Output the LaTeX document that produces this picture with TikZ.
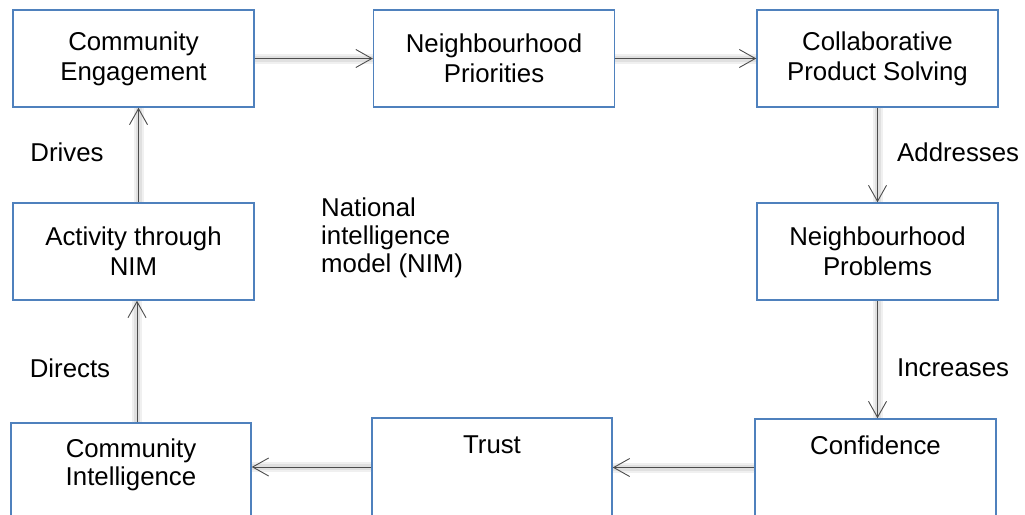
\documentclass[tikz,border=0pt]{standalone}
\usepackage{fontspec}
\setmainfont{Liberation Sans}
\usetikzlibrary{arrows.meta,calc}
\definecolor{boxblue}{RGB}{79,129,189}
\tikzset{
  box/.style={draw=boxblue, line width=1.5pt, minimum width=241pt, minimum height=97pt, inner sep=0pt, align=center, font=\fontsize{25.8}{31}\selectfont},
  lbl/.style={font=\fontsize{25.8}{31}\selectfont, inner sep=0pt, align=center},
  flow/.style={draw=black!70, line width=0.9pt, -{Straight Barb[length=16pt,width=18pt,line width=0.9pt]},
    preaction={draw=black!6, line width=10pt, -},
    preaction={draw=black!12, line width=6pt, -}},
}
\begin{document}
\begin{tikzpicture}[x=1pt,y=-1pt]
\useasboundingbox (0,0) rectangle (1025,514);
% top row
\node[box] (ce) at (133.5,58.5) {Community\\[-1pt]Engagement};
\node[box] (np) at (494,58.5) {Neighbourhood\\[-1pt]Priorities};
\node[box] (cps) at (877.5,58.5) {Collaborative\\[-1pt]Product Solving};
% middle row
\node[box] (act) at (133.5,251.5) {Activity through\\[-1pt]NIM};
\node[box] (prob) at (877.5,251.5) {Neighbourhood\\[-1pt]Problems};
% bottom row
\node[box, minimum width=240pt, minimum height=117pt] (ci) at (131,481.5) {};
\node[box, minimum width=240pt, minimum height=122pt] (trust) at (492,479) {};
\node[box, minimum width=241pt, minimum height=121pt] (conf) at (875.5,479.5) {};
\node[lbl] (citext) at (131,465) {Community\\[-3pt]Intelligence};
\node[lbl] (trusttext) at (492,445) {Trust};
\node[lbl] (conftext) at (875.5,445) {Confidence};
% free text
\node[lbl, anchor=west, align=left] (nim) at (321,238) {National\\[-3pt]intelligence\\[-3pt]model (NIM)};
\node[lbl] (drives) at (67,152) {Drives};
\node[lbl] (directs) at (70,368) {Directs};
\node[lbl, anchor=west] (addr) at (897,152) {Addresses};
\node[lbl, anchor=west] (incr) at (897,368) {Increases};
% connectors
\draw[flow] (ce.east) -- (np.west);
\draw[flow] (np.east) -- (cps.west);
\draw[flow] (cps.south) -- (prob.north);
\draw[flow] (prob.south) -- (prob.south |- conf.north);
\draw[flow] ([yshift=12pt]conf.west) -- ([yshift=12pt]conf.west -| trust.east);
\draw[flow] ([yshift=12pt]trust.west) -- ([yshift=12pt]trust.west -| ci.east);
\draw[flow] ([xshift=6pt]ci.north) -- ([xshift=6pt]ci.north |- act.south);
\draw[flow] ([xshift=5pt]act.north) -- ([xshift=5pt]act.north |- ce.south);
\end{tikzpicture}
\end{document}
